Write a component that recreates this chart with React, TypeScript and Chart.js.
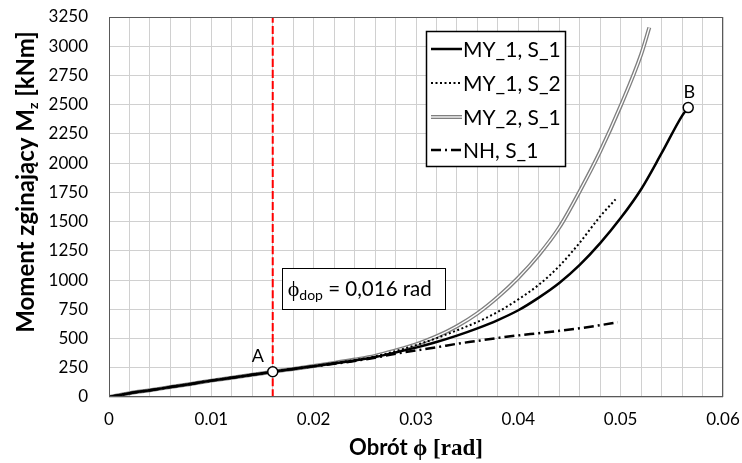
import React, { useEffect, useRef } from 'react';
import { Chart, registerables } from 'chart.js';

Chart.register(...registerables);

// ---- axes ----
const xMin = 0;
const xMax = 0.06;
const xGridStep = 0.002;
const xLabelStep = 0.01;
const yMin = 0;
const yMax = 3250;
const yStep = 250;

// ---- series: MY_1, S_1 (solid) ----
const phiMY1S1 = [0, 0.002, 0.004, 0.006, 0.008, 0.01, 0.012, 0.014, 0.016, 0.018, 0.02, 0.022, 0.024, 0.026, 0.028, 0.03, 0.032, 0.034, 0.036, 0.038, 0.04, 0.042, 0.044, 0.046, 0.048, 0.05, 0.052, 0.054, 0.056, 0.0566];
const mMY1S1 = [0, 32, 58, 85, 112, 140, 165, 190, 216, 240, 264, 288, 313, 342, 380, 422, 470, 525, 587, 658, 742, 850, 975, 1130, 1316, 1530, 1777, 2085, 2405, 2475];

// ---- series: MY_1, S_2 (dotted) ----
const phiMY1S2 = [0, 0.002, 0.004, 0.006, 0.008, 0.01, 0.012, 0.014, 0.016, 0.018, 0.02, 0.022, 0.024, 0.026, 0.028, 0.03, 0.032, 0.034, 0.036, 0.038, 0.04, 0.042, 0.044, 0.046, 0.048, 0.0495];
const mMY1S2 = [0, 32, 58, 85, 112, 140, 165, 190, 216, 240, 265, 290, 316, 347, 392, 444, 503, 570, 642, 728, 835, 960, 1120, 1320, 1545, 1690];

// ---- series: MY_2, S_1 (double line) ----
const phiMY2S1 = [0, 0.002, 0.004, 0.006, 0.008, 0.01, 0.012, 0.014, 0.016, 0.018, 0.02, 0.022, 0.024, 0.026, 0.028, 0.03, 0.032, 0.034, 0.036, 0.038, 0.04, 0.042, 0.044, 0.046, 0.048, 0.05, 0.052, 0.0528];
const mMY2S1 = [0, 32, 58, 85, 112, 140, 165, 190, 216, 240, 266, 292, 320, 352, 398, 450, 518, 605, 715, 855, 1020, 1215, 1450, 1760, 2100, 2490, 2930, 3160];

// ---- series: NH, S_1 (dash-dot) ----
const phiNHS1 = [0, 0.002, 0.004, 0.006, 0.008, 0.01, 0.012, 0.014, 0.016, 0.018, 0.02, 0.022, 0.024, 0.026, 0.028, 0.03, 0.032, 0.034, 0.036, 0.038, 0.04, 0.042, 0.044, 0.046, 0.048, 0.0497];
const mNHS1 = [0, 32, 58, 85, 112, 140, 165, 190, 216, 240, 262, 284, 308, 336, 370, 398, 425, 455, 480, 505, 527, 546, 566, 588, 614, 640];

// ---- reference line and marked points ----
const phiDop = 0.016;
const pointA = { label: 'A', x: 0.016, y: 216 };
const pointB = { label: 'B', x: 0.0566, y: 2475 };

const legendLabels = ['MY_1, S_1', 'MY_1, S_2', 'MY_2, S_1', 'NH, S_1'];
const yTitleMain = 'Moment zginający M';
const yTitleSub = 'z';
const yTitleTail = ' [kNm]';
const xTitleSans = 'Obrót ';
const xTitleSerif = 'ϕ [rad]';
const noteSymbol = 'ϕ';
const noteSub = 'dop';
const noteText = ' = 0,016 rad';

const SANS = 'Lato, "Noto Sans", sans-serif';
const SERIF = '"Liberation Serif", "DejaVu Serif", serif';

const zip = (xs: number[], ys: number[]) => xs.map((x, i) => ({ x, y: ys[i] }));

const DASH_DOT = [10, 4, 2, 4];
const DOTTED = [2, 2.5];

const overlayPlugin = {
  id: 'overlay',
  afterDraw(chart: any) {
    const ctx: CanvasRenderingContext2D = chart.ctx;
    const a = chart.chartArea;
    const xs = chart.scales.x;
    const ys = chart.scales.y;
    ctx.save();

    // plot frame
    ctx.strokeStyle = '#595959';
    ctx.lineWidth = 1;
    ctx.setLineDash([]);
    ctx.strokeRect(Math.round(a.left) + 0.5, Math.round(a.top) + 0.5, Math.round(a.right - a.left) - 1, Math.round(a.bottom - a.top) - 1);

    // point labels
    ctx.fillStyle = '#000';
    ctx.font = '18px ' + SANS;
    ctx.textAlign = 'center';
    ctx.textBaseline = 'alphabetic';
    ctx.fillText(pointA.label, xs.getPixelForValue(pointA.x) - 15, ys.getPixelForValue(pointA.y) - 10);
    ctx.fillText(pointB.label, xs.getPixelForValue(pointB.x) + 1, ys.getPixelForValue(pointB.y) - 10);

    // annotation box
    const bx0 = xs.getPixelForValue(0.01688);
    const bx1 = xs.getPixelForValue(0.0328);
    const by0 = ys.getPixelForValue(1100);
    const by1 = ys.getPixelForValue(752);
    ctx.fillStyle = '#fff';
    ctx.fillRect(bx0, by0, bx1 - bx0, by1 - by0);
    ctx.strokeStyle = '#000';
    ctx.lineWidth = 1;
    ctx.strokeRect(Math.round(bx0) + 0.5, Math.round(by0) + 0.5, Math.round(bx1 - bx0), Math.round(by1 - by0));
    ctx.fillStyle = '#000';
    ctx.textAlign = 'left';
    let tx = bx0 + 6;
    const tBase = (by0 + by1) / 2 + 7;
    ctx.font = '22px ' + SERIF;
    ctx.fillText(noteSymbol, tx, tBase);
    tx += ctx.measureText(noteSymbol).width;
    ctx.font = '14px ' + SANS;
    ctx.fillText(noteSub, tx, tBase + 4);
    tx += ctx.measureText(noteSub).width;
    ctx.font = '20.5px ' + SANS;
    ctx.fillText(noteText, tx, tBase);

    // legend
    const lx0 = 426, ly0 = 31, lx1 = 565, ly1 = 166;
    ctx.fillStyle = '#fff';
    ctx.fillRect(lx0, ly0, lx1 - lx0, ly1 - ly0);
    ctx.strokeStyle = '#000';
    ctx.lineWidth = 1.5;
    ctx.strokeRect(lx0 + 0.5, ly0 + 0.5, lx1 - lx0, ly1 - ly0);
    const rows = [49, 83, 117, 150];
    const sx0 = 431, sx1 = 462;
    rows.forEach((ry, i) => {
      ctx.save();
      ctx.beginPath();
      ctx.moveTo(sx0, ry);
      ctx.lineTo(sx1, ry);
      if (i === 0) {
        ctx.strokeStyle = '#000'; ctx.lineWidth = 2.5; ctx.setLineDash([]); ctx.stroke();
      } else if (i === 1) {
        ctx.strokeStyle = '#000'; ctx.lineWidth = 2; ctx.setLineDash(DOTTED); ctx.stroke();
      } else if (i === 2) {
        ctx.strokeStyle = '#808080'; ctx.lineWidth = 4; ctx.setLineDash([]); ctx.stroke();
        ctx.strokeStyle = '#fff'; ctx.lineWidth = 1.3; ctx.stroke();
      } else {
        ctx.strokeStyle = '#000'; ctx.lineWidth = 2.5; ctx.setLineDash(DASH_DOT); ctx.stroke();
      }
      ctx.restore();
      ctx.fillStyle = '#000';
      ctx.font = '21px ' + SANS;
      ctx.textAlign = 'left';
      ctx.textBaseline = 'middle';
      ctx.fillText(legendLabels[i], 463, ry + 1);
    });

    // y title
    ctx.save();
    ctx.translate(34, 182);
    ctx.rotate(-Math.PI / 2);
    ctx.textBaseline = 'alphabetic';
    ctx.textAlign = 'left';
    ctx.fillStyle = '#000';
    const fMain = 'bold 24px ' + SANS;
    const fSub = 'bold 14px ' + SANS;
    ctx.font = fMain;
    const w1 = ctx.measureText(yTitleMain).width;
    const w3 = ctx.measureText(yTitleTail).width;
    ctx.font = fSub;
    const w2 = ctx.measureText(yTitleSub).width;
    let px = -(w1 + w2 + w3) / 2;
    ctx.font = fMain;
    ctx.fillText(yTitleMain, px, 0);
    px += w1;
    ctx.font = fSub;
    ctx.fillText(yTitleSub, px, 4);
    px += w2;
    ctx.font = fMain;
    ctx.fillText(yTitleTail, px, 0);
    ctx.restore();

    // x title
    const fSans = 'bold 22px ' + SANS;
    const fSerif = 'bold 23px ' + SERIF;
    ctx.font = fSans;
    const wa = ctx.measureText(xTitleSans).width;
    ctx.font = fSerif;
    const wb = ctx.measureText(xTitleSerif).width;
    const cx = (a.left + a.right) / 2;
    let qx = cx - (wa + wb) / 2;
    ctx.textAlign = 'left';
    ctx.textBaseline = 'alphabetic';
    ctx.font = fSans;
    ctx.fillText(xTitleSans, qx, 455);
    qx += wa;
    ctx.font = fSerif;
    ctx.fillText(xTitleSerif, qx, 455);

    ctx.restore();
  },
};

export default function App() {
  const ref = useRef<HTMLCanvasElement | null>(null);

  useEffect(() => {
    if (!ref.current) return;
    const curve = (data: any[], extra: any) => ({
      data,
      showLine: true,
      pointRadius: 0,
      pointHoverRadius: 0,
      fill: false,
      cubicInterpolationMode: 'monotone',
      borderCapStyle: 'butt',
      ...extra,
    });
    const chart = new Chart(ref.current, {
      type: 'scatter',
      data: {
        datasets: [
          {
            data: [{ x: pointA.x, y: pointA.y }, { x: pointB.x, y: pointB.y }],
            pointRadius: 5,
            pointBackgroundColor: '#fff',
            pointBorderColor: '#000',
            pointBorderWidth: 1.5,
            showLine: false,
          } as any,
          curve([{ x: phiDop, y: yMin }, { x: phiDop, y: yMax }], { borderColor: '#ff0000', borderWidth: 2, borderDash: [8, 3] }),
          curve(zip(phiMY1S1, mMY1S1), { borderColor: '#000', borderWidth: 2.5 }),
          curve(zip(phiMY1S2, mMY1S2), { borderColor: '#000', borderWidth: 2, borderDash: DOTTED }),
          curve(zip(phiNHS1, mNHS1), { borderColor: '#000', borderWidth: 2.5, borderDash: DASH_DOT }),
          curve(zip(phiMY2S1, mMY2S1), { borderColor: '#fff', borderWidth: 1.3 }),
          curve(zip(phiMY2S1, mMY2S1), { borderColor: '#808080', borderWidth: 4 }),
        ],
      },
      options: {
        responsive: false,
        animation: false,
        events: [],
        layout: { padding: { left: 0, top: 17, right: 19, bottom: 0 } },
        plugins: { legend: { display: false }, tooltip: { enabled: false }, title: { display: false } },
        scales: {
          x: {
            type: 'linear',
            min: xMin,
            max: xMax,
            afterFit: (s: any) => { s.height = 66; s.paddingLeft = 0; s.paddingRight = 0; },
            border: { display: false },
            grid: { color: '#d0d0d0', lineWidth: 1, drawTicks: false },
            ticks: {
              stepSize: xGridStep,
              autoSkip: false,
              maxRotation: 0,
              padding: 12,
              color: '#000',
              font: { family: SANS, size: 17 },
              callback: (v: any) => {
                const r = v / xLabelStep;
                if (Math.abs(r - Math.round(r)) > 1e-6) return '';
                return Math.round(r) === 0 ? '0' : (Math.round(r) * xLabelStep).toFixed(2);
              },
            },
          },
          y: {
            type: 'linear',
            min: yMin,
            max: yMax,
            afterFit: (s: any) => { s.width = 109; s.paddingTop = 0; s.paddingBottom = 0; },
            border: { display: false },
            grid: { color: '#d0d0d0', lineWidth: 1, drawTicks: false },
            ticks: {
              stepSize: yStep,
              autoSkip: false,
              padding: 21,
              color: '#000',
              font: { family: SANS, size: 17 },
              callback: (v: any) => String(Math.round(v)),
            },
          },
        },
      } as any,
      plugins: [overlayPlugin],
    });
    return () => chart.destroy();
  }, []);

  return (
    <div style={{ position: 'fixed', left: 0, top: 0, width: 742, height: 463, background: '#fff' }}>
      <canvas ref={ref} width={742} height={463} style={{ display: 'block', width: 742, height: 463 }} />
    </div>
  );
}
